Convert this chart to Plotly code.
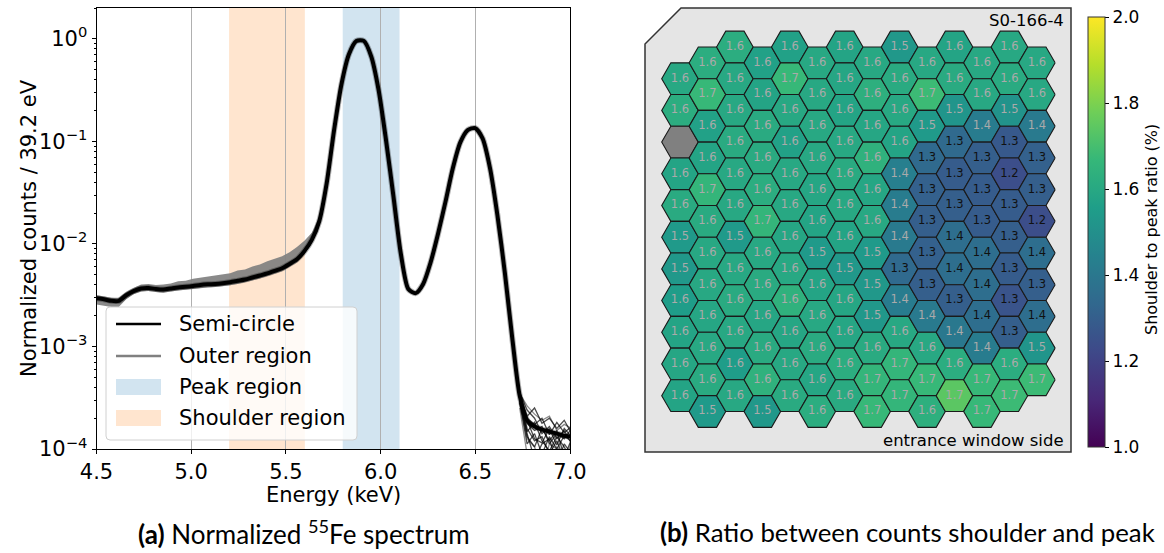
import numpy as np
import plotly.graph_objects as go
from plotly.colors import sample_colorscale

W, H = 1164, 553

# ---------------- spectrum: normalized counts per 39.2 eV bin ----------------
BIN_KEV = 0.0392
energy_kev = [round(4.5 + BIN_KEV * i, 4) for i in range(65)]

# median spectrum of the semi-circle pixels (log10 of normalized counts)
semi_circle_log10 = [
    -2.53, -2.54, -2.555, -2.555, -2.50, -2.46, -2.435, -2.43, -2.44, -2.445,
    -2.435, -2.425, -2.418, -2.41, -2.40, -2.394, -2.39, -2.383, -2.373, -2.36,
    -2.347, -2.327, -2.308, -2.288, -2.262, -2.237, -2.195, -2.15, -2.07, -1.96,
    -1.78, -1.41, -0.89, -0.44, -0.15, -0.02, -0.02, -0.17, -0.50, -0.99,
    -1.54, -2.10, -2.44, -2.48, -2.39, -2.18, -1.90, -1.59, -1.26, -1.01,
    -0.89, -0.87, -0.97, -1.26, -1.72, -2.28, -2.92, -3.48, -3.72, -3.78,
    -3.81, -3.83, -3.85, -3.87, -3.88,
]

# spread of the outer-region pixels below 5.7 keV (log10)
outer_upper_log10 = [
    -2.50, -2.51, -2.525, -2.525, -2.47, -2.43, -2.395, -2.39, -2.40, -2.395,
    -2.385, -2.365, -2.36, -2.34, -2.33, -2.316, -2.31, -2.295, -2.285, -2.26,
    -2.25, -2.22, -2.20, -2.17, -2.145, -2.12, -2.08, -2.03, -1.97, -1.89,
    -1.74,
]
outer_lower_log10 = [
    -2.59, -2.60, -2.615, -2.615, -2.54, -2.49, -2.465, -2.46, -2.47, -2.475,
    -2.465, -2.455, -2.448, -2.44, -2.43, -2.424, -2.42, -2.413, -2.403, -2.39,
    -2.377, -2.357, -2.338, -2.318, -2.292, -2.267, -2.225, -2.18, -2.10, -1.99,
    -1.81,
]

# low-statistics tails above the K-beta line (log10), individual pixels
tail_energy_kev = energy_kev[57:]
semi_tails_log10 = [
    [-3.45, -3.62, -3.70, -3.85, -3.78, -3.90, -3.82, -3.95],
    [-3.50, -3.80, -3.92, -3.88, -4.05, -3.92, -4.10, -3.98],
    [-3.47, -3.68, -3.60, -3.75, -3.70, -3.80, -3.72, -3.85],
    [-3.52, -3.85, -4.10, -3.95, -3.90, -4.15, -3.95, -4.05],
    [-3.48, -3.75, -3.82, -3.78, -3.95, -3.85, -3.90, -3.80],
    [-3.55, -3.95, -3.85, -4.05, -3.88, -4.00, -3.87, -3.93],
    [-3.46, -3.70, -3.76, -3.70, -3.86, -3.74, -3.84, -3.78],
    [-3.53, -3.88, -3.98, -3.80, -3.92, -3.82, -4.08, -3.90],
    [-3.49, -3.72, -3.90, -3.94, -3.80, -3.96, -3.80, -3.88],
    [-3.51, -3.83, -3.74, -3.92, -4.02, -3.88, -3.98, -4.12],
]
outer_tails_log10 = [
    [-3.46, -3.58, -3.66, -3.72, -3.68, -3.82, -3.76, -3.80],
    [-3.55, -3.90, -3.98, -4.20, -3.95, -4.00, -4.20, -3.90],
    [-3.60, -4.05, -4.25, -4.10, -4.15, -3.98, -4.05, -4.10],
]

shoulder_kev = (5.2, 5.6)
peak_kev = (5.8, 6.1)

# ---------------- pixel map: shoulder-to-peak ratio (%) ----------------
# one list per detector column, top to bottom; None = dead pixel
ratio_columns = [
    [1.60, 1.62, None, 1.58, 1.61, 1.54, 1.53, 1.55, 1.58, 1.59, 1.58],
    [1.62, 1.67, 1.57, 1.58, 1.66, 1.61, 1.60, 1.60, 1.59, 1.60, 1.61, 1.54],
    [1.62, 1.60, 1.60, 1.61, 1.60, 1.60, 1.54, 1.60, 1.61, 1.60, 1.55, 1.60],
    [1.57, 1.58, 1.61, 1.61, 1.62, 1.66, 1.60, 1.61, 1.59, 1.61, 1.64, 1.53],
    [1.57, 1.67, 1.60, 1.57, 1.60, 1.60, 1.59, 1.60, 1.64, 1.59, 1.60, 1.61],
    [1.60, 1.60, 1.60, 1.60, 1.59, 1.58, 1.54, 1.58, 1.60, 1.61, 1.59, 1.62],
    [1.58, 1.59, 1.58, 1.60, 1.61, 1.60, 1.58, 1.53, 1.59, 1.59, 1.62, 1.61],
    [1.60, 1.63, 1.59, 1.64, 1.59, 1.60, 1.54, 1.53, 1.53, 1.61, 1.66, 1.67],
    [1.53, 1.61, 1.60, 1.58, 1.43, 1.42, 1.41, 1.34, 1.42, 1.60, 1.66, 1.66],
    [1.60, 1.68, 1.54, 1.34, 1.31, 1.30, 1.31, 1.30, 1.41, 1.60, 1.67, 1.63],
    [1.58, 1.61, 1.52, 1.34, 1.29, 1.30, 1.36, 1.36, 1.30, 1.40, 1.62, 1.74],
    [1.60, 1.60, 1.42, 1.30, 1.29, 1.29, 1.36, 1.36, 1.36, 1.42, 1.67, 1.67],
    [1.60, 1.61, 1.51, 1.28, 1.24, 1.29, 1.30, 1.29, 1.26, 1.30, 1.62, 1.68],
    [1.60, 1.60, 1.41, 1.31, 1.30, 1.24, 1.36, 1.30, 1.36, 1.52, 1.68],
]
sensor_name = "S0-166-4"
ratio_range = (1.0, 2.0)
colorbar_ticks = [1.0, 1.2, 1.4, 1.6, 1.8, 2.0]

# ---------------- geometry helpers ----------------
def pxx(p):
    return p / W


def pxy(p):
    return 1 - p / H


FONT = "DejaVu Sans"
CAPTION_FONT = "Lato"
fig = go.Figure()

# ---- left panel: spectra ----
ax_l, ax_r, ax_t, ax_b = 96.5, 570, 8, 449

# outer-region spread (drawn first, semi-circle on top)
band_x = energy_kev[:len(outer_upper_log10)]
fig.add_trace(go.Scatter(
    x=band_x + band_x[::-1],
    y=[10 ** v for v in outer_upper_log10] + [10 ** v for v in outer_lower_log10[::-1]],
    fill="toself", fillcolor="rgba(128,128,128,0.92)", line=dict(width=0),
    mode="lines", hoverinfo="skip", xaxis="x", yaxis="y"))

for tail in outer_tails_log10:
    fig.add_trace(go.Scatter(
        x=tail_energy_kev, y=[10 ** v for v in tail], mode="lines",
        line=dict(color="rgba(110,110,110,0.8)", width=1.3),
        hoverinfo="skip", xaxis="x", yaxis="y"))
for tail in semi_tails_log10:
    fig.add_trace(go.Scatter(
        x=tail_energy_kev, y=[10 ** v for v in tail], mode="lines",
        line=dict(color="rgba(0,0,0,0.7)", width=1.3),
        hoverinfo="skip", xaxis="x", yaxis="y"))

semi_y = [10 ** v for v in semi_circle_log10]
fig.add_trace(go.Scatter(
    x=energy_kev, y=semi_y, mode="lines",
    line=dict(color="rgba(0,0,0,0.3)", width=6, shape="spline", smoothing=0.7),
    hoverinfo="skip", xaxis="x", yaxis="y"))
fig.add_trace(go.Scatter(
    x=energy_kev, y=semi_y, mode="lines",
    line=dict(color="black", width=4, shape="spline", smoothing=0.7),
    hoverinfo="skip", xaxis="x", yaxis="y"))

shapes = []
for (lo, hi), col in ((shoulder_kev, "#ffe5cf"), (peak_kev, "#d2e4f0")):
    shapes.append(dict(type="rect", xref="x", yref="y domain", x0=lo, x1=hi, y0=0, y1=1,
                       fillcolor=col, line=dict(width=0), layer="below"))

# ---- right panel: hexagonal pixel map ----
PX = 18.3                      # page pixels per hex circumradius
map_left, map_top, map_w, map_h = 645, 8, 426, 444
pad = 6
ox = (680 - map_left) / PX     # first column centre from the panel's left edge
oy = (47 - map_top) / PX       # first row centre from the panel's top edge
SQ3 = np.sqrt(3.0)

x2_range = [-pad / PX - ox, (map_w + pad) / PX - ox]
y2_range = [-(map_h + pad) / PX, pad / PX]

# panel outline with the chamfered corner
bx0, bx1 = -ox, map_w / PX - ox
by0, by1 = -map_h / PX, 0.0
ch = 36 / PX
shapes.append(dict(
    type="path", xref="x2", yref="y2", layer="below",
    path=f"M {bx0},{by1 - ch} L {bx0},{by0} L {bx1},{by0} L {bx1},{by1} L {bx0 + ch},{by1} Z",
    fillcolor="#e5e5e5", line=dict(color="#333333", width=1.5)))

ang = np.radians(np.arange(0, 361, 60))
hex_dx, hex_dy = np.cos(ang), np.sin(ang)

lab_x, lab_y, lab_t, lab_c = [], [], [], []
for c, column in enumerate(ratio_columns):
    first_row = 1 if c == 0 else 0          # chamfered corner skips the first cell
    for j, val in enumerate(column):
        k = first_row + j
        cx = 1.5 * c
        cy = -(oy + SQ3 * k + (c % 2) * SQ3 / 2)
        if val is None:
            fill = "#808080"
        else:
            t = (val - ratio_range[0]) / (ratio_range[1] - ratio_range[0])
            fill = sample_colorscale("Viridis", [t])[0]
            lab_x.append(cx)
            lab_y.append(cy)
            lab_t.append(f"{val:.1f}")
            lab_c.append("#111111" if val < 1.37 else "#aaaaaa")
        fig.add_trace(go.Scatter(
            x=cx + hex_dx, y=cy + hex_dy, mode="lines", fill="toself",
            fillcolor=fill, line=dict(color="#1a1a1a", width=1.1),
            hoverinfo="skip", xaxis="x2", yaxis="y2"))

fig.add_trace(go.Scatter(
    x=lab_x, y=lab_y, mode="text", text=lab_t,
    textfont=dict(family=FONT, size=11.5, color=lab_c),
    hoverinfo="skip", xaxis="x2", yaxis="y2"))

# colour scale reference
fig.add_trace(go.Scatter(
    x=[0], y=[0], mode="markers", xaxis="x2", yaxis="y2", hoverinfo="skip",
    marker=dict(size=1, opacity=0, color=[1.5], colorscale="Viridis",
                cmin=ratio_range[0], cmax=ratio_range[1], showscale=True,
                colorbar=dict(
                    thickness=17, thicknessmode="pixels",
                    len=430 / H, lenmode="fraction",
                    x=pxx(1088), xanchor="left", y=pxy(17), yanchor="top",
                    xpad=0, ypad=0, outlinewidth=1, outlinecolor="#333333",
                    ticks="outside", ticklen=4, tickcolor="black",
                    tickvals=colorbar_ticks, ticktext=[f"{v:.1f}" for v in colorbar_ticks],
                    tickfont=dict(family=FONT, size=17, color="black")))))

# ---- hand-drawn legend for the spectrum panel ----
def rrect(x0, y0, x1, y1, r):
    def P(x, y):
        return f"{pxx(x)},{pxy(y)}"
    return (f"M {P(x0 + r, y0)} L {P(x1 - r, y0)} Q {P(x1, y0)} {P(x1, y0 + r)} "
            f"L {P(x1, y1 - r)} Q {P(x1, y1)} {P(x1 - r, y1)} L {P(x0 + r, y1)} "
            f"Q {P(x0, y1)} {P(x0, y1 - r)} L {P(x0, y0 + r)} Q {P(x0, y0)} {P(x0 + r, y0)} Z")


shapes.append(dict(type="path", xref="paper", yref="paper", layer="above",
                   path=rrect(106, 307, 357, 440, 4),
                   fillcolor="rgba(255,255,255,0.8)", line=dict(color="#d0d0d0", width=1)))
leg_rows = [
    ("Semi-circle", "line", "black"),
    ("Outer region", "line", "#808080"),
    ("Peak region", "patch", "#d2e4f0"),
    ("Shoulder region", "patch", "#ffe5cf"),
]
leg_y = [324, 356, 387, 418]
annotations = []
for (name, kind, col), yy in zip(leg_rows, leg_y):
    if kind == "line":
        shapes.append(dict(type="line", xref="paper", yref="paper", layer="above",
                           x0=pxx(116), x1=pxx(161), y0=pxy(yy), y1=pxy(yy),
                           line=dict(color=col, width=2.5)))
    else:
        shapes.append(dict(type="rect", xref="paper", yref="paper", layer="above",
                           x0=pxx(116), x1=pxx(161), y0=pxy(yy - 8), y1=pxy(yy + 8),
                           fillcolor=col, line=dict(width=0)))
    annotations.append(dict(text=name, x=pxx(177), y=pxy(yy), xanchor="left",
                            font=dict(family=FONT, size=21)))

# axis titles, panel texts and captions
annotations += [
    dict(text="Energy (keV)", x=pxx(333), y=pxy(495), font=dict(family=FONT, size=21)),
    dict(text="Normalized counts / 39.2 eV", x=pxx(29), y=pxy(228), textangle=-90,
         font=dict(family=FONT, size=21)),
    dict(text=sensor_name, x=pxx(1066), y=pxy(20), xanchor="right",
         font=dict(family=FONT, size=16.5)),
    dict(text="entrance window side", x=pxx(1066), y=pxy(440), xanchor="right",
         font=dict(family=FONT, size=16.5)),
    dict(text="Shoulder to peak ratio (%)", x=pxx(1152), y=pxy(230), textangle=-90,
         font=dict(family=FONT, size=16)),
    dict(text="<b>(a)</b> Normalized <sup>55</sup>Fe spectrum", x=pxx(304), y=pxy(532),
         font=dict(family=CAPTION_FONT, size=26)),
    dict(text="<b>(b)</b> Ratio between counts shoulder and peak", x=pxx(907), y=pxy(532),
         font=dict(family=CAPTION_FONT, size=25.8)),
]
for a in annotations:
    a.setdefault("xref", "paper")
    a.setdefault("yref", "paper")
    a.setdefault("showarrow", False)
    a.setdefault("xanchor", "center")
    a.setdefault("yanchor", "middle")
    a["font"].setdefault("color", "black")

y_major = [1e-4, 1e-3, 1e-2, 1e-1, 1.0]
y_major_text = ["10<sup>−4</sup>", "10<sup>−3</sup>", "10<sup>−2</sup>",
                "10<sup>−1</sup>", "10<sup>0</sup>"]
y_minor = [m * 10.0 ** e for e in range(-4, 1) for m in range(2, 10)]
x_major = [4.5, 5.0, 5.5, 6.0, 6.5, 7.0]

fig.update_layout(
    template="none",
    width=W, height=H, autosize=False, margin=dict(l=0, r=0, t=0, b=0, pad=0),
    paper_bgcolor="white", plot_bgcolor="white", showlegend=False,
    font=dict(family=FONT, color="black"),
    xaxis=dict(domain=[pxx(ax_l), pxx(ax_r)], range=[4.5, 7.0], anchor="y",
               automargin=False,
               tickvals=x_major, ticktext=[f"{v:.1f}" for v in x_major],
               ticks="outside", ticklen=4, tickwidth=1, tickcolor="black",
               showline=True, linecolor="black", linewidth=1, mirror=True,
               showgrid=True, gridcolor="#b0b0b0", gridwidth=1, zeroline=False,
               tickfont=dict(family=FONT, size=21)),
    yaxis=dict(domain=[pxy(ax_b), pxy(ax_t)], type="log", range=[-4, np.log10(2.0)],
               anchor="x", automargin=False, tickvals=y_major, ticktext=y_major_text,
               ticks="outside", ticklen=4, tickwidth=1, tickcolor="black",
               minor=dict(tickvals=y_minor, ticks="outside", ticklen=2,
                          tickcolor="black", showgrid=False),
               showline=True, linecolor="black", linewidth=1, mirror=True,
               showgrid=False, zeroline=False, tickfont=dict(family=FONT, size=21)),
    xaxis2=dict(domain=[pxx(map_left - pad), pxx(map_left + map_w + pad)],
                range=x2_range, visible=False, anchor="y2", fixedrange=True,
                automargin=False),
    yaxis2=dict(domain=[pxy(map_top + map_h + pad), pxy(map_top - pad)],
                range=y2_range, visible=False, anchor="x2", fixedrange=True,
                automargin=False),
    shapes=shapes, annotations=annotations,
)

fig.write_html("out.html")
